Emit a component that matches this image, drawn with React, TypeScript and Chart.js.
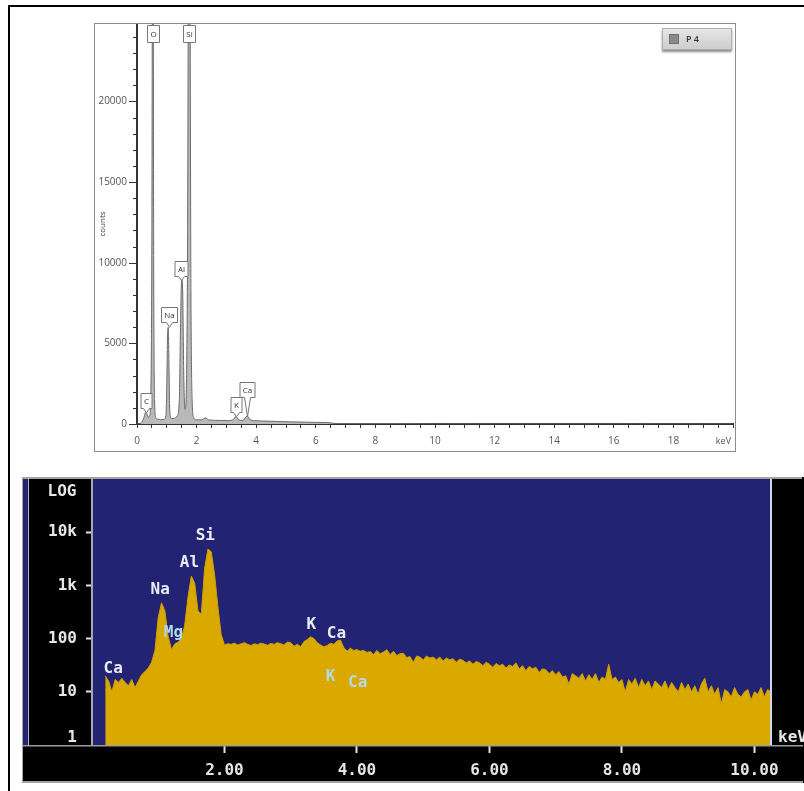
import React, { useEffect, useRef } from 'react';
import { Chart, registerables } from 'chart.js';

Chart.register(...registerables);

// ---------------- Top spectrum (linear counts) ----------------
const SERIES_NAME = 'P 4';
const topEnergy = [0, 0.1, 0.2, 0.25, 0.28, 0.31, 0.34, 0.38, 0.42, 0.46,
  0.50, 0.52, 0.54, 0.56, 0.59, 0.63, 0.7, 0.8, 0.9, 0.97,
  1.0, 1.03, 1.05, 1.07, 1.1, 1.15, 1.25, 1.35, 1.42, 1.46,
  1.5, 1.53, 1.57, 1.61, 1.64, 1.70, 1.73, 1.77, 1.81, 1.85,
  1.9, 2.0, 2.15, 2.3, 2.4, 2.6, 2.8, 3.0, 3.2, 3.32,
  3.42, 3.55, 3.7, 3.8, 4.0, 4.5, 5.0, 5.5, 6.0, 6.4,
  6.6, 7.0, 8.0, 10, 20];
const topCounts = [0, 20, 250, 500, 700, 720, 600, 400, 500, 1500,
  12000, 30000, 30000, 10000, 1500, 400, 300, 270, 280, 500,
  2500, 5800, 6000, 4000, 800, 350, 350, 500, 1500, 6000,
  9000, 8500, 3000, 900, 1200, 12000, 30000, 30000, 8000, 1500,
  400, 260, 250, 380, 260, 230, 220, 210, 240, 450,
  250, 220, 500, 260, 200, 170, 140, 120, 100, 90,
  40, 20, 10, 5, 0];
const topXTickValues = [0, 0.5, 1, 1.5, 2, 2.5, 3, 3.5, 4, 4.5, 5, 5.5, 6, 6.5, 7, 7.5, 8, 8.5, 9, 9.5,
  10, 10.5, 11, 11.5, 12, 12.5, 13, 13.5, 14, 14.5, 15, 15.5, 16, 16.5, 17, 17.5, 18, 18.5, 19, 19.5, 20];
const topXLabelled = [0, 2, 4, 6, 8, 10, 12, 14, 16, 18];
const topYTickValues = [0, 1000, 2000, 3000, 4000, 5000, 6000, 7000, 8000, 9000, 10000, 11000, 12000,
  13000, 14000, 15000, 16000, 17000, 18000, 19000, 20000, 21000, 22000, 23000, 24000];
const topYLabelled = [0, 5000, 10000, 15000, 20000];
const topPeakNames = ['C', 'O', 'Na', 'Al', 'Si', 'K', 'Ca'];
const topPeakEnergy = [0.29, 0.54, 1.06, 1.49, 1.76, 3.32, 3.70];
const topPeakTip = [680, 30000, 6000, 8900, 30000, 450, 450];
const topPeakLeader = [5, 5, 5, 4, 5, 5, 20]; // style: pointer length in px

// ---------------- Bottom spectrum (log counts) ----------------
const bottomStart = 0.2;
const bottomStep = 0.05;
const bottomCounts = [
  20, 16, 10, 17, 15, 18, 15, 13, 17, 12,
  16, 21, 24, 28, 36, 60, 250, 470, 330, 110,
  62, 80, 86, 100, 180, 620, 1500, 1100, 330, 290,
  2100, 4800, 4300, 1600, 400, 120, 76, 80, 78, 82,
  76, 80, 84, 78, 74, 80, 77, 82, 79, 75,
  81, 78, 84, 80, 76, 86, 84, 72, 78, 70,
  88, 96, 108, 100, 84, 76, 70, 74, 82, 78,
  90, 94, 68, 58, 66, 60, 62, 58, 60, 55,
  57, 50, 60, 52, 56, 62, 50, 58, 48, 52,
  53, 44, 46, 36, 47, 45, 40, 47, 43, 45,
  40, 45, 38, 43, 40, 42, 36, 41, 39, 35,
  38, 33, 37, 35, 31, 36, 33, 29, 34, 31,
  33, 28, 32, 30, 35, 27, 31, 25, 30, 27,
  29, 23, 27, 26, 22, 25, 21, 24, 19, 20,
  14, 22, 20, 18, 22, 16, 21, 17, 22, 15,
  19, 17, 33, 17, 19, 15, 17, 10, 17, 14,
  18, 12, 17, 13, 16, 11, 16, 14, 12, 16,
  11, 15, 12, 10, 15, 11, 14, 10, 13, 9,
  14, 18, 10, 13, 9, 12, 6, 11, 10, 8,
  12, 9, 8, 10, 11, 7, 10, 9, 12, 8,
  11, 10];
const bottomLabels = ['Ca', 'Na', 'Mg', 'Al', 'Si', 'K', 'Ca', 'K', 'Ca'];
const bottomLabelEnergy = [0.32, 1.03, 1.23, 1.47, 1.71, 3.31, 3.69, 3.60, 4.01];
const bottomLabelLevel = [27, 820, 127, 2650, 8500, 180, 122, 19, 15];
const bottomLabelTone = [0, 0, 1, 0, 0, 0, 0, 1, 1];
const bottomYTicks = [1, 10, 100, 1000, 10000];
const bottomYTickText = ['1', '10', '100', '1k', '10k'];
const bottomXTicks = [2, 4, 6, 8, 10];

const TOP_FONT = '"Open Sans", "Liberation Sans", sans-serif';
const MONO = '"DejaVu Sans Mono", "Liberation Mono", monospace';
const BLUE = '#222372';
const GOLD = '#d9a900';

function noPad(s: any) {
  s.paddingTop = 0; s.paddingBottom = 0; s.paddingLeft = 0; s.paddingRight = 0;
}

function TopSpectrum() {
  const ref = useRef<HTMLCanvasElement>(null);
  useEffect(() => {
    const canvas = ref.current!;
    const decor = {
      id: 'topDecor',
      afterDraw(chart: any) {
        const { ctx, chartArea: ca, scales } = chart;
        const xs = scales.x, ys = scales.y;
        ctx.save();
        ctx.strokeStyle = '#333';
        ctx.lineWidth = 1;
        ys.ticks.forEach((t: any) => {
          const py = Math.round(ys.getPixelForValue(t.value)) + 0.5;
          const len = topYLabelled.includes(t.value) ? 8 : 4;
          ctx.beginPath();
          ctx.moveTo(ca.left - len, py);
          ctx.lineTo(ca.left, py);
          ctx.stroke();
        });
        ctx.fillStyle = '#555';
        ctx.font = `9px ${TOP_FONT}`;
        ctx.textAlign = 'right';
        ctx.textBaseline = 'middle';
        ctx.fillText('keV', ca.right - 2, ca.bottom + 17);

        ctx.font = `8px ${TOP_FONT}`;
        ctx.textAlign = 'center';
        topPeakNames.forEach((name, i) => {
          const px = Math.round(xs.getPixelForValue(topPeakEnergy[i])) + 0.5;
          const tip = ys.getPixelForValue(topPeakTip[i]);
          const w = Math.round(ctx.measureText(name).width) + 6;
          const clipped = tip < ca.top + 24;
          let top: number, bottom: number, tipY: number;
          if (clipped) {
            top = ca.top + 1.5; bottom = top + 17; tipY = bottom;
          } else {
            tipY = tip; bottom = Math.round(tip - topPeakLeader[i]) + 0.5; top = bottom - 15;
          }
          const l = px - w / 2, r = px + w / 2;
          ctx.beginPath();
          ctx.moveTo(l, top);
          ctx.lineTo(r, top);
          ctx.lineTo(r, bottom);
          if (!clipped) {
            ctx.lineTo(px + 3, bottom);
            ctx.lineTo(px, tipY);
            ctx.lineTo(px - 3, bottom);
          }
          ctx.lineTo(l, bottom);
          ctx.closePath();
          ctx.fillStyle = '#fff';
          ctx.fill();
          ctx.strokeStyle = '#777';
          ctx.stroke();
          ctx.fillStyle = '#333';
          ctx.fillText(name, px, (top + bottom) / 2 + 0.5);
        });
        ctx.restore();
      },
    };
    const chart = new Chart(canvas, {
      type: 'line',
      data: {
        datasets: [{
          label: SERIES_NAME,
          data: topEnergy.map((e, i) => ({ x: e, y: topCounts[i] })),
          borderColor: '#6a6a6a',
          borderWidth: 1,
          backgroundColor: '#b9b9b9',
          fill: 'origin',
          pointRadius: 0,
          cubicInterpolationMode: 'monotone',
        }],
      },
      options: {
        animation: false,
        responsive: false,
        events: [],
        layout: { padding: { top: 0, right: 2, left: 0, bottom: 0 } },
        plugins: { legend: { display: false }, tooltip: { enabled: false } },
        scales: {
          x: {
            type: 'linear', min: 0, max: 20,
            afterFit(s: any) { s.height = 27; noPad(s); },
            afterBuildTicks(s: any) { s.ticks = topXTickValues.map((v) => ({ value: v })); },
            ticks: {
              autoSkip: false, maxRotation: 0, padding: 7,
              color: '#555', font: { family: TOP_FONT, size: 10 },
              callback: (v: any) => (topXLabelled.includes(Number(v)) ? String(v) : ''),
            },
            grid: { drawOnChartArea: false, tickLength: 4, tickColor: '#333' },
            border: { color: '#333', width: 2 },
          },
          y: {
            type: 'linear', min: 0, max: 24800,
            afterFit(s: any) { s.width = 42; noPad(s); },
            afterBuildTicks(s: any) { s.ticks = topYTickValues.map((v) => ({ value: v })); },
            ticks: {
              autoSkip: false, padding: 2,
              color: '#555', font: { family: TOP_FONT, size: 10 },
              callback: (v: any) => (topYLabelled.includes(Number(v)) ? String(v) : ''),
            },
            grid: { drawOnChartArea: false, tickLength: 8, tickColor: 'transparent' },
            border: { color: '#333', width: 2 },
            title: {
              display: true, text: 'counts', color: '#444',
              font: { family: TOP_FONT, size: 8 }, padding: { top: 3, bottom: 0 },
            },
          },
        },
      },
      plugins: [decor],
    } as any);
    return () => chart.destroy();
  }, []);
  return <canvas ref={ref} width={640} height={427} style={{ display: 'block' }} />;
}

function BottomSpectrum() {
  const ref = useRef<HTMLCanvasElement>(null);
  useEffect(() => {
    const canvas = ref.current!;
    const bg = {
      id: 'bg',
      beforeDraw(chart: any) {
        const { ctx, chartArea: ca, width, height } = chart;
        ctx.save();
        ctx.fillStyle = '#000';
        ctx.fillRect(0, 0, width, height);
        ctx.fillStyle = '#a4a4a4';
        ctx.fillRect(0, 0, width - 2, 2);
        ctx.fillRect(0, 0, 1, height - 2);
        ctx.fillRect(0, height - 2, width - 1, 2);
        ctx.fillStyle = BLUE;
        ctx.fillRect(1, ca.top, 5, ca.bottom - ca.top);
        ctx.fillStyle = '#b4b4b4';
        ctx.fillRect(6, ca.top, 1, ca.bottom - ca.top);
        ctx.fillStyle = BLUE;
        ctx.fillRect(ca.left, ca.top, ca.right - ca.left, ca.bottom - ca.top);
        ctx.restore();
      },
      afterDraw(chart: any) {
        const { ctx, chartArea: ca, scales, width } = chart;
        const xs = scales.x, ys = scales.y;
        ctx.save();
        ctx.fillStyle = '#d4d4ee';
        ctx.fillRect(ca.right - 1, ca.top, 2, ca.bottom - ca.top);
        ctx.fillStyle = '#9c9c9c';
        ctx.fillRect(1, ca.bottom, width - 2, 1.5);
        ctx.font = `bold 16px ${MONO}`;
        ctx.fillStyle = '#e6e6e6';
        ctx.textBaseline = 'middle';
        ctx.textAlign = 'center';
        ctx.fillText('LOG', ca.left - 30, ca.top + 13);
        ctx.textAlign = 'right';
        ctx.fillText(bottomYTickText[0], ca.left - 15, ys.getPixelForValue(bottomYTicks[0]) - 7);
        ctx.textAlign = 'left';
        ctx.fillText('keV', ca.right + 7, ca.bottom - 7);
        ctx.textAlign = 'center';
        bottomLabels.forEach((name, i) => {
          ctx.fillStyle = bottomLabelTone[i] ? '#b4d8ec' : '#ececf6';
          ctx.fillText(name, xs.getPixelForValue(bottomLabelEnergy[i]), ys.getPixelForValue(bottomLabelLevel[i]));
        });
        ctx.restore();
      },
    };
    const chart = new Chart(canvas, {
      type: 'line',
      data: {
        datasets: [{
          label: 'LOG',
          data: bottomCounts.map((v, i) => ({ x: bottomStart + i * bottomStep, y: v })),
          fill: 'start',
          backgroundColor: GOLD,
          borderColor: '#cfa000',
          borderWidth: 1,
          pointRadius: 0,
          tension: 0,
        }],
      },
      options: {
        animation: false,
        responsive: false,
        events: [],
        layout: { padding: { top: 2, right: 33, left: 0, bottom: 0 } },
        plugins: { legend: { display: false }, tooltip: { enabled: false } },
        scales: {
          x: {
            type: 'linear', min: 0, max: 10.25,
            afterFit(s: any) { s.height = 38; noPad(s); },
            afterBuildTicks(s: any) { s.ticks = bottomXTicks.map((v) => ({ value: v })); },
            ticks: {
              autoSkip: false, maxRotation: 0, padding: 8, color: '#e6e6e6',
              font: { family: MONO, size: 16, weight: 'bold' },
              callback: (v: any) => Number(v).toFixed(2),
            },
            grid: { drawOnChartArea: false, tickLength: 8, tickColor: '#e0e0e0', tickWidth: 2 },
            border: { display: false },
          },
          y: {
            type: 'logarithmic', min: 1, max: 100000,
            afterFit(s: any) { s.width = 70; noPad(s); },
            afterBuildTicks(s: any) { s.ticks = bottomYTicks.map((v) => ({ value: v })); },
            ticks: {
              autoSkip: false, padding: 9, color: '#e6e6e6',
              font: { family: MONO, size: 16, weight: 'bold' },
              callback: (v: any) => {
                const i = bottomYTicks.indexOf(Number(v));
                return i > 0 ? bottomYTickText[i] : '';
              },
            },
            grid: {
              drawOnChartArea: false, tickLength: 6, tickWidth: 2,
              tickColor: (c: any) => (c.tick && c.tick.value === bottomYTicks[0] ? 'transparent' : '#e0e0e0'),
            },
            border: { color: '#a8a8a8', width: 2 },
          },
        },
      },
      plugins: [bg],
    } as any);
    return () => chart.destroy();
  }, []);
  return <canvas ref={ref} width={782} height={306} style={{ display: 'block' }} />;
}

function Legend() {
  return (
    <div style={{
      position: 'absolute', left: 662, top: 28, width: 70, height: 22, boxSizing: 'border-box',
      background: 'linear-gradient(#e6e6e6, #cdcdcd)', border: '1px solid #b0b0b0',
      boxShadow: '0 2px 2px rgba(0,0,0,0.45)',
    }}>
      <div style={{
        position: 'absolute', left: 6, top: 5, width: 10, height: 10,
        background: '#8a8a8a', border: '1px solid #6e6e6e', boxSizing: 'border-box',
      }} />
      <div style={{
        position: 'absolute', left: 23, top: 3, fontFamily: TOP_FONT, fontSize: 9,
        lineHeight: '14px', color: '#333', fontWeight: 600,
      }}>{SERIES_NAME}</div>
    </div>
  );
}

export default function App() {
  return (
    <div style={{ position: 'fixed', left: 0, top: 0, width: 804, height: 791, background: '#fff', overflow: 'hidden' }}>
      <div style={{
        position: 'absolute', left: 8, top: 5, width: 900, height: 900,
        borderLeft: '2px solid #000', borderTop: '2px solid #000',
      }} />
      <div style={{ position: 'absolute', left: 94, top: 23, width: 640, height: 427, border: '1px solid #8c8c8c' }}>
        <TopSpectrum />
      </div>
      <Legend />
      <div style={{ position: 'absolute', left: 22, top: 477 }}>
        <BottomSpectrum />
      </div>
    </div>
  );
}
